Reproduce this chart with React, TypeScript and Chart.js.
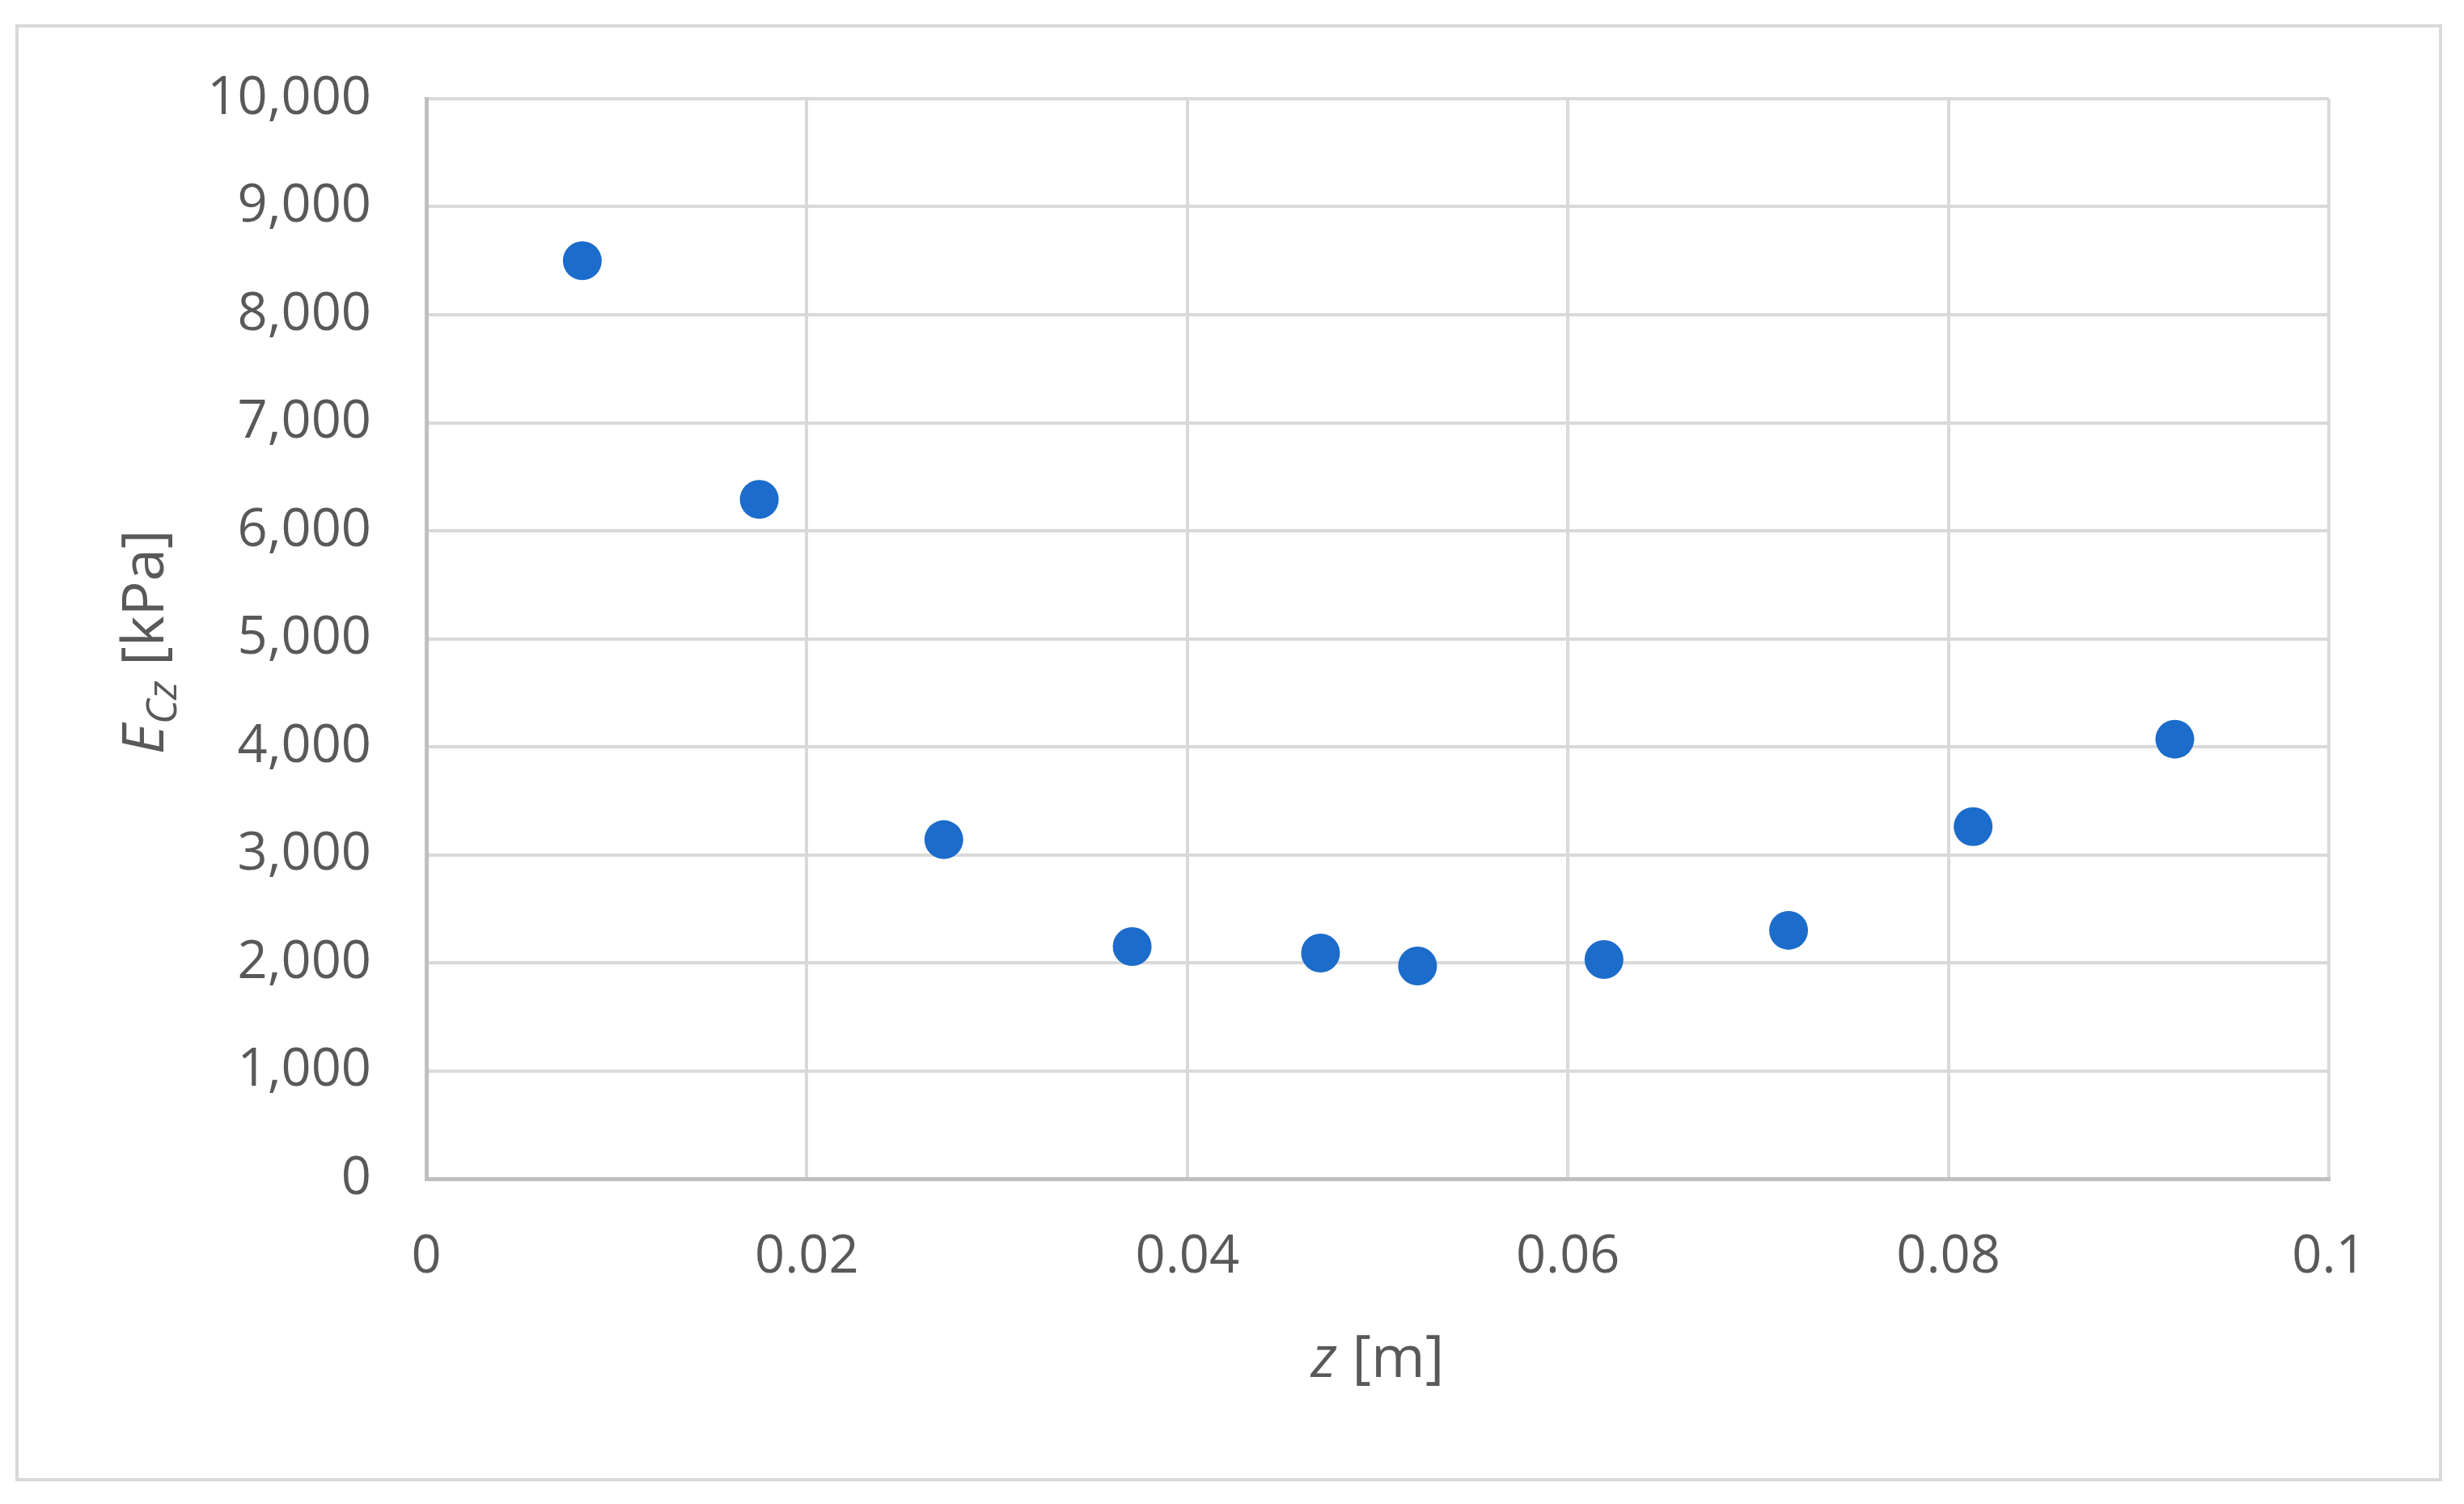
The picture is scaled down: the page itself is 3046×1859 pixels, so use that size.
import React, { useEffect, useRef } from "react";
import { Chart, registerables } from "chart.js";

Chart.register(...registerables);

// Data
const zValues = [0.0082, 0.0175, 0.0272, 0.0371, 0.047, 0.0521, 0.0619, 0.0716, 0.0813, 0.0919];
const ecValues = [8500, 6290, 3140, 2150, 2090, 1970, 2030, 2300, 3260, 4070];

const xMin = 0;
const xMax = 0.1;
const xStep = 0.02;
const yMin = 0;
const yMax = 10000;
const yStep = 1000;

const W = 3046;
const H = 1859;
const FONT = '"Open Sans", "Noto Sans", sans-serif';
const TEXT_COLOR = "#595959";

const framePlugin = {
  id: "frame",
  beforeDraw(chart: any) {
    const ctx = chart.ctx;
    ctx.save();
    ctx.fillStyle = "#ffffff";
    ctx.fillRect(0, 0, chart.width, chart.height);
    ctx.strokeStyle = "#D9D9D9";
    ctx.lineWidth = 4;
    ctx.strokeRect(21, 32, 2996, 1797);
    ctx.restore();
  },
};

function drawParts(ctx: CanvasRenderingContext2D, parts: { text: string; font: string; dy: number }[]) {
  let total = 0;
  const widths = parts.map((p) => {
    ctx.font = p.font;
    const w = ctx.measureText(p.text).width;
    total += w;
    return w;
  });
  let x = -total / 2;
  parts.forEach((p, i) => {
    ctx.font = p.font;
    ctx.fillText(p.text, x, p.dy);
    x += widths[i];
  });
}

const titlesPlugin = {
  id: "titles",
  afterDraw(chart: any) {
    const ctx = chart.ctx as CanvasRenderingContext2D;
    const area = chart.chartArea;
    ctx.save();
    ctx.fillStyle = TEXT_COLOR;
    ctx.textBaseline = "alphabetic";
    ctx.textAlign = "left";
    // x axis title
    ctx.save();
    ctx.translate((area.left + area.right) / 2, 1702);
    drawParts(ctx, [
      { text: "z", font: `italic 72px ${FONT}`, dy: 0 },
      { text: " [m]", font: `72px ${FONT}`, dy: 0 },
    ]);
    ctx.restore();
    // y axis title
    ctx.save();
    ctx.translate(202, (area.top + area.bottom) / 2 + 4);
    ctx.rotate(-Math.PI / 2);
    drawParts(ctx, [
      { text: "E", font: `italic 72px ${FONT}`, dy: 0 },
      { text: "Cz", font: `italic 52px ${FONT}`, dy: 16 },
      { text: " [kPa]", font: `72px ${FONT}`, dy: 0 },
    ]);
    ctx.restore();
    ctx.restore();
  },
};

export default function App() {
  const canvasRef = useRef<HTMLCanvasElement | null>(null);

  useEffect(() => {
    document.body.style.margin = "0";
    const canvas = canvasRef.current;
    if (!canvas) return;
    const chart = new Chart(canvas, {
      type: "scatter",
      data: {
        datasets: [
          {
            label: "E_Cz",
            data: zValues.map((z, i) => ({ x: z, y: ecValues[i] })),
            backgroundColor: "#1C6CCB",
            borderColor: "#1C6CCB",
            borderWidth: 0,
            pointRadius: 24,
            pointHoverRadius: 24,
          },
        ],
      },
      options: {
        animation: false,
        responsive: false,
        devicePixelRatio: 1,
        layout: { padding: { left: 0, top: 122, right: W - 2879, bottom: 0 } },
        plugins: {
          legend: { display: false },
          tooltip: { enabled: false },
        },
        scales: {
          x: {
            type: "linear",
            min: xMin,
            max: xMax,
            ticks: {
              stepSize: xStep,
              padding: 58,
              maxRotation: 0,
              color: TEXT_COLOR,
              font: { family: FONT, size: 65 },
              callback: (v: any) => String(Number(Number(v).toFixed(2))),
            },
            grid: { color: "#D9D9D9", lineWidth: 4, drawTicks: false },
            border: { color: "#BFBFBF", width: 5 },
            afterFit: (s: any) => {
              s.height = H - 1457;
            },
          },
          y: {
            type: "linear",
            min: yMin,
            max: yMax,
            ticks: {
              stepSize: yStep,
              padding: 68,
              color: TEXT_COLOR,
              font: { family: FONT, size: 65 },
              callback: (v: any) => Number(v).toLocaleString("en-US"),
            },
            grid: { color: "#D9D9D9", lineWidth: 4, drawTicks: false },
            border: { color: "#BFBFBF", width: 5 },
            afterFit: (s: any) => {
              s.width = 527;
            },
          },
        },
      },
      plugins: [framePlugin, titlesPlugin],
    } as any);
    return () => chart.destroy();
  }, []);

  return (
    <div style={{ position: "absolute", left: 0, top: 0, width: W, height: H }}>
      <canvas ref={canvasRef} width={W} height={H} style={{ width: W, height: H, display: "block" }} />
    </div>
  );
}
